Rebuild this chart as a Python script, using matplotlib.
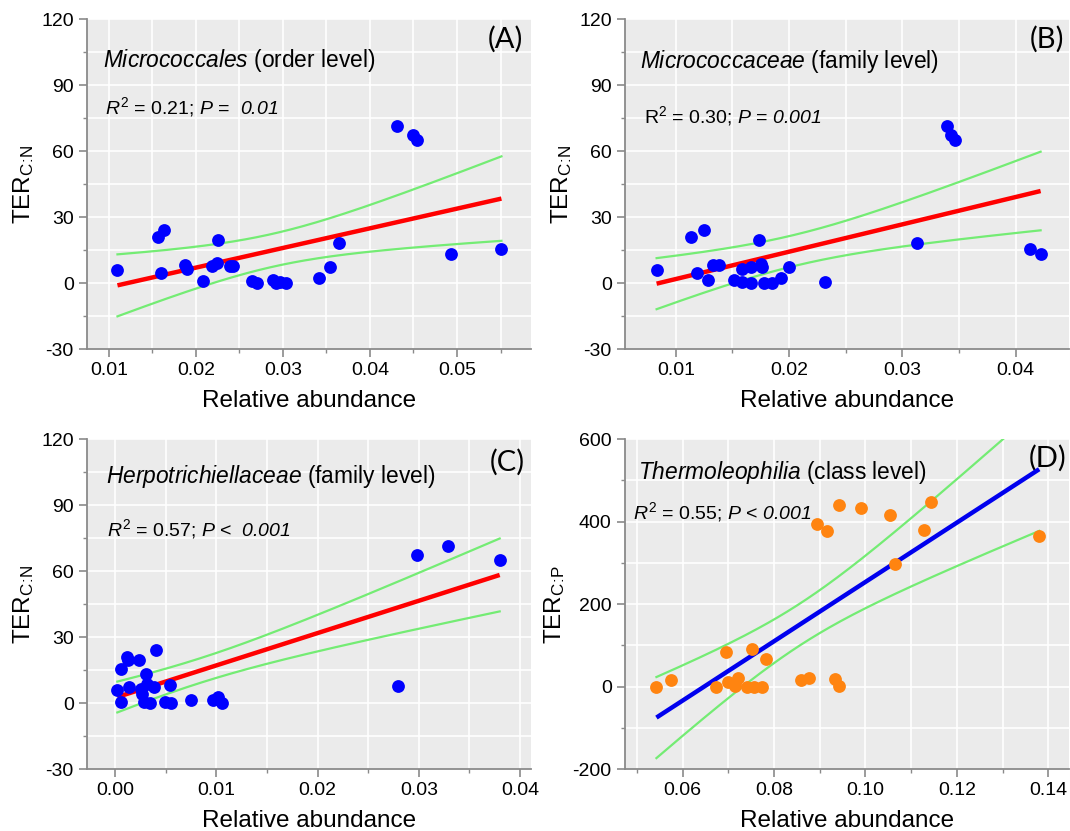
import numpy as np
import matplotlib
matplotlib.use('Agg')
import matplotlib.pyplot as plt
from matplotlib.ticker import MultipleLocator, FormatStrFormatter

plt.rcParams['font.family'] = 'Liberation Sans'
plt.rcParams['axes.unicode_minus'] = False
plt.rcParams['mathtext.fontset'] = 'custom'
plt.rcParams['mathtext.rm'] = 'Liberation Sans'
plt.rcParams['mathtext.it'] = 'Liberation Sans:italic'
# italic digits: \mathit forces non-letters upright, so route them through sf
plt.rcParams['mathtext.sf'] = 'Liberation Sans:italic'
plt.rcParams['mathtext.default'] = 'regular'

# (A) Micrococcales, order level
a_abund = [0.0110, 0.0156, 0.0164, 0.0160, 0.0187, 0.0190, 0.0208, 0.0219, 0.0224,
           0.0226, 0.0239, 0.0243, 0.0264, 0.0270, 0.0289, 0.0292, 0.0297, 0.0304,
           0.0341, 0.0354, 0.0365, 0.0431, 0.0450, 0.0454, 0.0493, 0.0551]
a_ter = [5.8, 20.9, 24.2, 4.5, 8.0, 6.5, 0.8, 7.6, 9.1, 19.7, 7.6, 7.6, 0.8, 0.2,
         1.2, 0.0, 0.5, 0.0, 2.4, 7.3, 18.3, 71.5, 67.4, 65.2, 13.3, 15.6]

# (B) Micrococcaceae, family level
b_abund = [0.0083, 0.0113, 0.0125, 0.0119, 0.0128, 0.0133, 0.0138, 0.0151, 0.0158,
           0.0158, 0.0166, 0.0166, 0.0173, 0.0175, 0.0176, 0.0178, 0.0185, 0.0193,
           0.0200, 0.0232, 0.0313, 0.0339, 0.0343, 0.0346, 0.0413, 0.0422]
b_ter = [5.8, 20.9, 24.2, 4.5, 1.5, 8.3, 8.0, 1.5, 0.5, 6.5, 0.0, 7.3, 19.7, 8.8,
         7.3, 0.0, 0.0, 2.4, 7.3, 0.5, 18.3, 71.5, 67.4, 65.2, 15.6, 13.3]

# (C) Herpotrichiellaceae, family level
c_abund = [0.0002, 0.0006, 0.0006, 0.0012, 0.0013, 0.0014, 0.0023, 0.0025, 0.0026,
           0.0028, 0.0030, 0.0031, 0.0034, 0.0038, 0.0040, 0.0049, 0.0055, 0.0054,
           0.0075, 0.0097, 0.0102, 0.0105, 0.0279, 0.0298, 0.0329, 0.0380]
c_ter = [5.8, 0.5, 15.6, 20.9, 19.4, 7.3, 19.7, 6.5, 4.2, 0.5, 13.3, 8.8, 0.0, 7.3,
         24.2, 0.5, 0.0, 8.0, 1.5, 1.2, 2.7, 0.0, 7.6, 67.1, 71.5, 65.2]

# (D) Thermoleophilia, class level
d_abund = [0.0543, 0.0574, 0.0673, 0.0695, 0.0700, 0.0714, 0.0714, 0.0722, 0.0740,
           0.0751, 0.0756, 0.0774, 0.0782, 0.0860, 0.0876, 0.0894, 0.0917, 0.0933,
           0.0943, 0.0943, 0.0990, 0.1054, 0.1064, 0.1127, 0.1144, 0.1380]
d_ter = [0, 15, 0, 84, 10, 1, 8, 21, 0, 92, 0, 0, 66, 15, 20, 394, 378, 19,
         440, 1, 434, 416, 298, 379, 447, 366]

taxa = ['Micrococcales', 'Micrococcaceae', 'Herpotrichiellaceae', 'Thermoleophilia']
levels = ['(order level)', '(family level)', '(family level)', '(class level)']
stats = [r'$\mathit{R}^2$ = 0.21; $\mathit{P}$ =  $\mathsf{0.01}$',
         r'R$^2$ = 0.30; $\mathit{P}$ = $\mathsf{0.001}$',
         r'$\mathit{R}^2$ = 0.57; $\mathit{P}$ <  $\mathsf{0.001}$',
         r'$\mathit{R}^2$ = 0.55; $\mathit{P}$ < $\mathsf{0.001}$']
tags = ['(A)', '(B)', '(C)', '(D)']

T_CRIT = 2.064  # t(0.975, df=24)


def plot_panel(ax, x, y, xlim, xstep, ylim, ystep, ylabel, dot_color, fit_color,
               taxon, level, stat, tag, title_pos, stat_pos, tag_pos):
    x = np.asarray(x, dtype=float)
    y = np.asarray(y, dtype=float)

    ax.set_facecolor('#ebebeb')
    ax.set_xlim(xlim)
    ax.set_ylim(ylim)
    ax.xaxis.set_major_locator(MultipleLocator(xstep))
    ax.xaxis.set_minor_locator(MultipleLocator(xstep / 2))
    ax.xaxis.set_major_formatter(FormatStrFormatter('%.2f'))
    ax.yaxis.set_major_locator(MultipleLocator(ystep))
    ax.yaxis.set_minor_locator(MultipleLocator(ystep / 2))
    ax.grid(True, which='both', color='white', lw=1.2)
    ax.set_axisbelow(True)
    for s in ['top', 'right']:
        ax.spines[s].set_visible(False)
    for s in ['left', 'bottom']:
        ax.spines[s].set_color('#8a8a8a')
        ax.spines[s].set_linewidth(1.3)
    ax.tick_params(which='both', direction='out', color='#8a8a8a', labelsize=14)
    ax.tick_params(which='major', length=6, width=1.2)
    ax.tick_params(which='minor', length=3, width=1.0)

    # least squares fit with 95% confidence band of the mean
    slope, icpt = np.polyfit(x, y, 1)
    n = len(x)
    resid = y - (icpt + slope * x)
    s = np.sqrt(np.sum(resid ** 2) / (n - 2))
    sxx = np.sum((x - x.mean()) ** 2)
    xs = np.linspace(x.min(), x.max(), 200)
    fit = icpt + slope * xs
    half = T_CRIT * s * np.sqrt(1.0 / n + (xs - x.mean()) ** 2 / sxx)

    ax.plot(xs, fit + half, color='#74ec74', lw=1.6, zorder=3)
    ax.plot(xs, fit - half, color='#74ec74', lw=1.6, zorder=3)
    ax.plot(xs, fit, color=fit_color, lw=3.2, zorder=4, solid_capstyle='butt')
    ax.scatter(x, y, s=85, color=dot_color, linewidths=0, zorder=5)

    ax.set_xlabel('Relative abundance', fontsize=17.5, labelpad=8)
    ax.set_ylabel(ylabel, fontsize=17.5, labelpad=4)

    ax.text(title_pos[0], title_pos[1], r'$\mathit{' + taxon + '}$ ' + level,
            transform=ax.transAxes, fontsize=16.4, va='center', ha='left')
    ax.text(stat_pos[0], stat_pos[1], stat, transform=ax.transAxes,
            fontsize=14, va='center', ha='left')
    ax.text(tag_pos[0], tag_pos[1], tag, transform=ax.transAxes, family='Lato',
            fontsize=21, va='center', ha='right', zorder=2)


fig = plt.figure(figsize=(10.7, 8.31), dpi=100)
ax_a = fig.add_axes([0.0813, 0.580, 0.415, 0.397])
ax_b = fig.add_axes([0.584, 0.580, 0.415, 0.397])
ax_c = fig.add_axes([0.0813, 0.0746, 0.415, 0.397])
ax_d = fig.add_axes([0.584, 0.0746, 0.415, 0.397])

plot_panel(ax_a, a_abund, a_ter, (0.0075, 0.0585), 0.01, (-30, 120), 30,
           r'TER$_{C\!:\!N}$', '#0000ff', '#ff0000', taxa[0], levels[0], stats[0], tags[0],
           (0.035, 0.876), (0.040, 0.733), (0.983, 0.94))
plot_panel(ax_b, b_abund, b_ter, (0.0055, 0.0447), 0.01, (-30, 120), 30,
           r'TER$_{C\!:\!N}$', '#0000ff', '#ff0000', taxa[1], levels[1], stats[1], tags[1],
           (0.035, 0.871), (0.043, 0.706), (0.990, 0.938))
plot_panel(ax_c, c_abund, c_ter, (-0.0028, 0.0411), 0.01, (-30, 120), 30,
           r'TER$_{C\!:\!N}$', '#0000ff', '#ff0000', taxa[2], levels[2], stats[2], tags[2],
           (0.043, 0.886), (0.044, 0.727), (0.986, 0.931))
plot_panel(ax_d, d_abund, d_ter, (0.0474, 0.1445), 0.02, (-200, 600), 200,
           r'TER$_{C\!:\!P}$', '#ff8410', '#0000ee', taxa[3], levels[3], stats[3], tags[3],
           (0.030, 0.898), (0.019, 0.780), (0.995, 0.942))

fig.savefig('out.png', dpi=100)
